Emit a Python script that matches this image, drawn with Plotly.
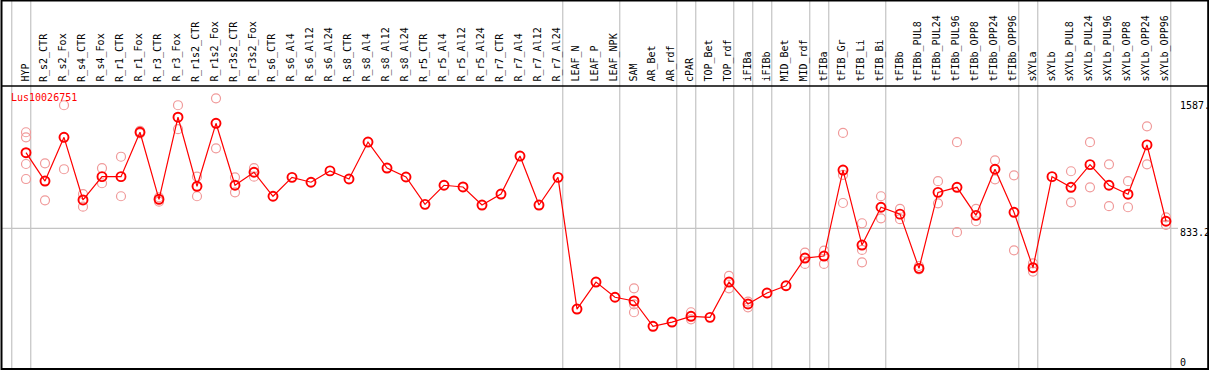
import plotly.graph_objects as go

categories = ["HYP", "R_s2_CTR", "R_s2_Fox", "R_s4_CTR", "R_s4_Fox", "R_r1_CTR", "R_r1_Fox",
              "R_r3_CTR", "R_r3_Fox", "R_r1s2_CTR", "R_r1s2_Fox", "R_r3s2_CTR", "R_r3s2_Fox",
              "R_s6_CTR", "R_s6_Al4", "R_s6_Al12", "R_s6_Al24", "R_s8_CTR", "R_s8_Al4",
              "R_s8_Al12", "R_s8_Al24", "R_r5_CTR", "R_r5_Al4", "R_r5_Al12", "R_r5_Al24",
              "R_r7_CTR", "R_r7_Al4", "R_r7_Al12", "R_r7_Al24", "LEAF_N", "LEAF_P", "LEAF_NPK",
              "SAM", "AR_Bet", "AR_rdf", "cPAR", "TOP_Bet", "TOP_rdf", "iFIBa", "iFIBb",
              "MID_Bet", "MID_rdf", "tFIBa", "tFIB_Gr", "tFIB_Li", "tFIB_Bi", "tFIBb",
              "tFIBb_PUL8", "tFIBb_PUL24", "tFIBb_PUL96", "tFIBb_OPP8", "tFIBb_OPP24",
              "tFIBb_OPP96", "sXYLa", "sXYLb", "sXYLb_PUL8", "sXYLb_PUL24", "sXYLb_PUL96",
              "sXYLb_OPP8", "sXYLb_OPP24", "sXYLb_OPP96"]

mean_values = [1281, 1113, 1372, 1001, 1139, 1139, 1402, 1005, 1491, 1082, 1455, 1088, 1165,
               1023, 1135, 1106, 1173, 1125, 1344, 1190, 1137, 975, 1088, 1078, 971, 1036,
               1261, 971, 1135, 355, 515, 425, 403, 253, 278, 312, 306, 515, 385, 450, 493,
               657, 669, 1178, 734, 958, 917, 596, 1046, 1076, 910, 1183, 928, 600, 1139,
               1076, 1210, 1088, 1035, 1327, 875]

N = None
rep_a = [1402, 1218, 1562, 1035, 1189, 1257, 1410, 1017, 1562, 1139, 1603, 1135, 1189,
         N, N, N, N, N, N, N, N, N, N, N, N, N, N, N, N, N, N, N,
         478, N, N, 336, N, 551, 399, N, N, 689, 701, 1398, 863, 1023, 948, 610, 1112,
         1343, 948, 1236, 1147, 626, N, 1171, 1343, 1212, 1112, 1437, 898]
rep_b = [1372, 999, 1183, 961, 1100, 1023, 1395, 991, 1420, 1023, 1307, 1046, 1139,
         N, N, N, N, N, N, N, N, N, N, N, N, N, N, N, N, N, N, N,
         383, N, N, 294, N, 478, 365, N, N, 622, 622, 1149, 705, 892, 887, 590, 981,
         810, 875, 1123, 703, 577, N, 987, 1076, 964, 958, 1212, 853]
rep_c = [1214] + [N] * 31 + [336] + [N] * 10 + [983, 632] + [N] * 16
rep_d = [1125] + [N] * 60

y_tick_labels = ["1587.", "833.2", "0"]
gene_name = "Lus10026751"
group_ends = [-1, 0, 28, 31, 34, 35, 37, 38, 39, 41, 42, 45, 52, 53, 60]
grid_value = 833.2

W, H = 1209, 370
X0, DX = 26.0, 19.0           # pixel of first category, spacing
Y_BOTTOM, UNITS_PER_PX = 369.0, 833.2 / 140.7
HEADER_Y = 86

def px(xp):
    return xp / W

def py(yp):
    return 1 - yp / H

fig = go.Figure()

rx, ry = [], []
for reps in (rep_a, rep_b, rep_c, rep_d):
    for c, v in zip(categories, reps):
        if v is not None:
            rx.append(c)
            ry.append(v)

fig.add_trace(go.Scatter(
    x=rx, y=ry, mode="markers",
    marker=dict(symbol="circle-open", size=9, color="#f09a9a", line=dict(width=1.2, color="#f09a9a")),
    hoverinfo="skip", showlegend=False))

fig.add_trace(go.Scatter(
    x=categories, y=mean_values, mode="lines+markers",
    line=dict(color="#ff0000", width=1.2),
    marker=dict(symbol="circle-open", size=9, color="#ff0000", line=dict(width=1.9, color="#ff0000")),
    showlegend=False))

shapes = []
for g in group_ends:
    xv = g + 0.25
    shapes.append(dict(type="line", xref="x", yref="paper", x0=xv, x1=xv, y0=py(369), y1=py(0),
                       line=dict(color="#c4c4c4", width=1.2), layer="below"))
shapes.append(dict(type="line", xref="paper", yref="y", x0=px(2), x1=px(1178), y0=grid_value, y1=grid_value,
                   line=dict(color="#c4c4c4", width=1.2), layer="below"))
shapes.append(dict(type="line", xref="paper", yref="paper", x0=px(1), x1=px(1208.5), y0=py(HEADER_Y), y1=py(HEADER_Y),
                   line=dict(color="black", width=1.6)))
shapes.append(dict(type="rect", xref="paper", yref="paper", x0=px(1.5), x1=px(1208.2), y0=py(369), y1=py(0.6),
                   line=dict(color="black", width=2)))

annotations = []
for c in categories:
    annotations.append(dict(x=c, xref="x", y=py(84), yref="paper", text=c, textangle=-90,
                            showarrow=False, xanchor="center", yanchor="bottom", xshift=-1.5,
                            font=dict(family="DejaVu Sans Mono", size=10, color="black")))
annotations.append(dict(x=px(9), xref="paper", y=py(97), yref="paper", text=gene_name, showarrow=False,
                        xanchor="left", yanchor="middle",
                        font=dict(family="DejaVu Sans Mono", size=10, color="#ff0000")))
for lab, ypix in zip(y_tick_labels, [106, 232, 362]):
    annotations.append(dict(x=px(1178), xref="paper", y=py(ypix), yref="paper", text=lab, showarrow=False,
                            xanchor="left", yanchor="middle",
                            font=dict(family="DejaVu Sans Mono", size=10, color="black")))

fig.update_layout(
    width=W, height=H, margin=dict(l=0, r=0, t=0, b=0),
    paper_bgcolor="white", plot_bgcolor="white",
    xaxis=dict(visible=False, type="category", categoryorder="array", categoryarray=categories,
               range=[-X0 / DX, (W - X0) / DX]),
    yaxis=dict(visible=False, range=[(Y_BOTTOM - H) * UNITS_PER_PX, Y_BOTTOM * UNITS_PER_PX]),
    shapes=shapes, annotations=annotations)

fig.write_html("out.html", config={"displayModeBar": False},
               post_script="document.body.style.margin='0';document.body.style.overflow='hidden';")
